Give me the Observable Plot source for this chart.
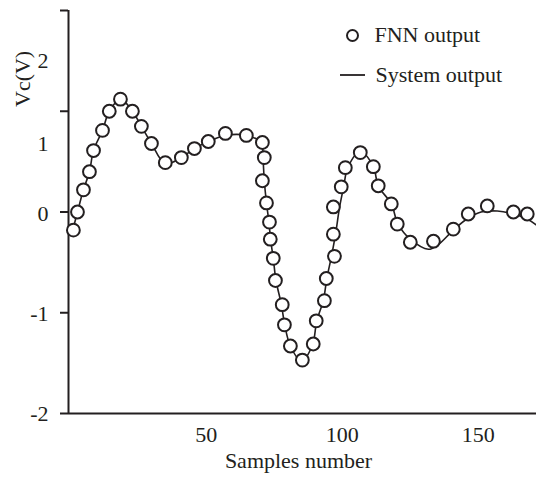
<!DOCTYPE html>
<html>
<head>
<meta charset="utf-8">
<script src="https://cdn.jsdelivr.net/npm/d3@7"></script>
<script src="https://cdn.jsdelivr.net/npm/@observablehq/plot@0.6"></script>
<style>
  html, body { margin: 0; padding: 0; background: #fff; }
  #chart { position: relative; width: 536px; height: 478px; }
</style>
</head>
<body>
<div id="chart"></div>
<script>
// FNN output (circles)
const fnnX = [1.1, 2.6, 4.8, 7.0, 8.5, 11.8, 14.3, 18.4, 22.8, 26.1, 29.8, 34.9, 40.8, 45.6, 50.7, 57.0, 64.7, 70.6, 71.3, 70.6, 72.1, 73.2, 73.5, 74.6, 75.4, 77.9, 78.7, 80.9, 85.3, 89.3, 90.4, 93.4, 94.1, 97.1, 96.7, 96.7, 99.6, 101.1, 106.6, 111.4, 113.2, 118.0, 120.2, 125.0, 133.5, 140.8, 146.3, 153.3, 162.9, 168.0];
const fnnY = [-0.18, 0.0, 0.22, 0.40, 0.61, 0.81, 1.0, 1.12, 1.0, 0.85, 0.68, 0.49, 0.54, 0.63, 0.70, 0.78, 0.76, 0.69, 0.54, 0.31, 0.09, -0.10, -0.27, -0.46, -0.68, -0.92, -1.12, -1.33, -1.47, -1.31, -1.08, -0.88, -0.66, -0.44, -0.22, 0.05, 0.25, 0.44, 0.59, 0.45, 0.26, 0.08, -0.12, -0.30, -0.29, -0.17, -0.02, 0.06, 0.0, -0.02];

// System output (line)
const sysX = [0.5, 2.6, 4.8, 7.0, 8.5, 11.8, 14.3, 18.4, 22.8, 26.1, 29.8, 34.9, 40.8, 45.6, 50.7, 57.0, 64.7, 70.2, 70.8, 71.3, 72.1, 73.0, 73.6, 74.6, 75.6, 77.6, 78.8, 80.9, 85.0, 89.0, 90.6, 93.0, 94.3, 96.0, 97.5, 99.0, 100.5, 102.0, 106.6, 111.4, 113.2, 118.0, 120.5, 125.0, 131.6, 135.0, 140.8, 146.3, 151.0, 157.0, 163.0, 168.0, 171.4];
const sysY = [-0.22, 0.0, 0.22, 0.40, 0.61, 0.81, 1.0, 1.12, 1.0, 0.85, 0.68, 0.48, 0.54, 0.63, 0.70, 0.76, 0.76, 0.69, 0.54, 0.31, 0.09, -0.10, -0.27, -0.46, -0.68, -0.92, -1.12, -1.33, -1.48, -1.32, -1.08, -0.88, -0.66, -0.44, -0.22, 0.05, 0.25, 0.44, 0.60, 0.45, 0.26, 0.08, -0.12, -0.27, -0.37, -0.33, -0.18, -0.06, 0.0, 0.01, -0.02, -0.07, -0.13];

// Axes
const yTickValues = [2, 1, 0, -1, -2];
const yTickLabels = ["2", "1", "0", "-1", "-2"];
const yTickLabelPos = [1.50, 0.68, -0.02, -1.01, -2.0];
const xTicks = [50, 100, 150];
const xLabel = "Samples number";
const yLabel = "Vc(V)";
const legendLabels = ["FNN output", "System output"];

const ink = "#231f20";
const fnn = fnnX.map((x, i) => ({x, y: fnnY[i]}));
const sys = sysX.map((x, i) => ({x, y: sysY[i]}));
const yLab = yTickLabels.map((t, i) => ({t, v: yTickLabelPos[i]}));

const plot = Plot.plot({
  width: 536,
  height: 478,
  marginLeft: 68,
  marginRight: 0,
  marginTop: 10,
  marginBottom: 65,
  x: {domain: [-0.7, 171.4]},
  y: {domain: [-2, 2]},
  style: {fontFamily: "'Liberation Serif', 'Times New Roman', serif", fontSize: "22px", color: ink, background: "#fff"},
  marks: [
    Plot.axisY({ticks: yTickValues, tickSize: 8, tickFormat: () => "", label: null, stroke: ink, strokeWidth: 2}),
    Plot.axisX({ticks: [], label: null}),
    Plot.ruleX([-0.7], {stroke: ink, strokeWidth: 2}),
    Plot.ruleY([-2], {stroke: ink, strokeWidth: 2}),
    Plot.text(yLab, {y: "v", text: "t", frameAnchor: "left", textAnchor: "end", dx: -20, fill: ink}),
    Plot.text(xTicks, {x: d => d, text: d => String(d), frameAnchor: "bottom", dy: 28, fill: ink}),
    Plot.text([xLabel], {text: d => d, frameAnchor: "bottom", dy: 54, dx: -4, fill: ink}),
    Plot.text([yLabel], {text: d => d, frameAnchor: "left", rotate: -90, dx: -46, dy: -105, fill: ink}),
    Plot.line(sys, {x: "x", y: "y", stroke: ink, strokeWidth: 1.6, curve: "catmull-rom"}),
    Plot.dot(fnn, {x: "x", y: "y", r: 6.4, fill: "#fff", stroke: ink, strokeWidth: 2}),
    Plot.dot([legendLabels[0]], {frameAnchor: "top-left", dx: 352 - 68, dy: 35 - 10, r: 5.5, fill: "#fff", stroke: ink, strokeWidth: 2}),
    Plot.text([legendLabels[0]], {text: d => d, frameAnchor: "top-left", textAnchor: "start", lineAnchor: "middle", dx: 374 - 68, dy: 34 - 10, fill: ink}),
    Plot.text([legendLabels[1]], {text: d => d, frameAnchor: "top-left", textAnchor: "start", lineAnchor: "middle", dx: 375 - 68, dy: 74 - 10, fill: ink})
  ]
});

// legend line swatch for "System output"
d3.select(plot).append("line")
  .attr("x1", 340).attr("x2", 365).attr("y1", 75).attr("y2", 75)
  .attr("stroke", ink).attr("stroke-width", 1.8);

document.getElementById("chart").appendChild(plot);
</script>
</body>
</html>
